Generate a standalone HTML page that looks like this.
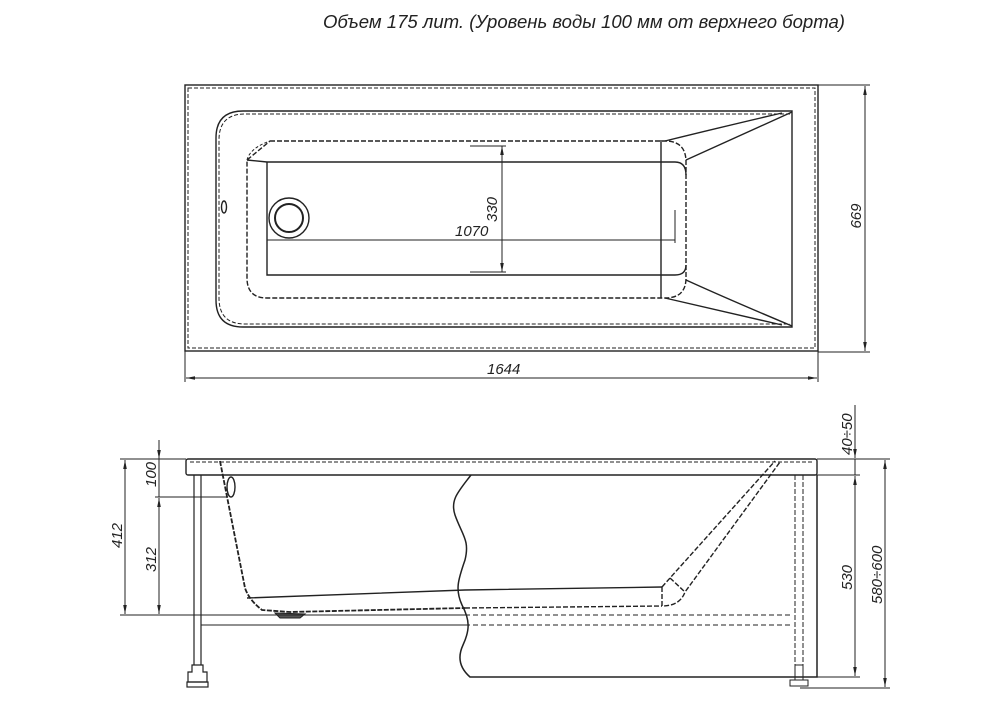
<!DOCTYPE html>
<html><head><meta charset="utf-8"><style>
html,body{margin:0;padding:0;background:#fff;}
svg{display:block;}
text{font-family:"Liberation Sans",sans-serif;font-style:italic;fill:#222;}
</style></head><body>
<svg width="1000" height="702" viewBox="0 0 1000 702" xmlns="http://www.w3.org/2000/svg">
<defs>
<marker id="a" viewBox="0 0 10 10" refX="10" refY="5" markerWidth="9" markerHeight="9" orient="auto-start-reverse" markerUnits="userSpaceOnUse"><path d="M0,3 L10,5 L0,7 z" fill="#222"/></marker>
</defs>
<text x="323" y="28" font-size="18" textLength="522" lengthAdjust="spacingAndGlyphs">Объем 175 лит. (Уровень воды 100 мм от верхнего борта)</text>

<g fill="none" stroke="#222" stroke-width="1.4">
<!-- TOP VIEW -->
<rect x="185" y="85" width="633" height="266"/>
<rect x="188" y="88" width="627" height="260" stroke-dasharray="4 2" stroke-width="1"/>
<path d="M792,111 H243 Q216,111 216,138 V300 Q216,327 243,327 H792 Z"/>
<path d="M790,114 H245 Q219,114 219,140 V298 Q219,324 245,324 H790" stroke-dasharray="4 2" stroke-width="1"/>
<!-- basin -->
<path d="M270,141 H665 Q686,141 686,162 V278 Q686,298 665,298 H267 Q247,298 247,278 V160 L270,141" stroke-dasharray="5 2"/>
<path d="M247,160 Q250,148 270,141" stroke-dasharray="3 2" stroke-width="1"/>
<path d="M267,162 H675 Q686,162 686,175 M267,162 V275 H675 Q686,275 686,265"/>
<path d="M247,160 L267,162"/>
<line x1="661" y1="140" x2="661" y2="298"/>
<path d="M686,160 Q730,140 792,112 M665,141 Q730,125 782,113"/>
<path d="M686,280 Q730,300 792,326 M665,298 Q730,313 782,325"/>
<circle cx="289" cy="218" r="20"/>
<circle cx="289" cy="218" r="14" stroke-width="2"/>
<ellipse cx="224" cy="207" rx="2.5" ry="6"/>
<!-- dims top -->
<g stroke-width="1">
<line x1="267" y1="240" x2="675" y2="240"/>
<line x1="675" y1="210" x2="675" y2="243"/>
<line x1="267" y1="210" x2="267" y2="243"/>
<line x1="502" y1="146" x2="502" y2="272" marker-start="url(#a)" marker-end="url(#a)"/>
<line x1="470" y1="146" x2="506" y2="146"/>
<line x1="470" y1="272" x2="506" y2="272"/>
<line x1="185" y1="351" x2="185" y2="382"/>
<line x1="818" y1="351" x2="818" y2="382"/>
<line x1="186" y1="378" x2="817" y2="378" marker-start="url(#a)" marker-end="url(#a)"/>
<line x1="818" y1="85" x2="870" y2="85"/>
<line x1="818" y1="352" x2="870" y2="352"/>
<line x1="865" y1="86" x2="865" y2="351" marker-start="url(#a)" marker-end="url(#a)"/>
</g>

<!-- SIDE VIEW -->
<rect x="186" y="459" width="631" height="16" rx="2"/>
<line x1="190" y1="462" x2="814" y2="462" stroke-dasharray="4 2" stroke-width="1"/>
<line x1="194" y1="475" x2="194" y2="665" stroke-width="1.2"/>
<line x1="201" y1="475" x2="201" y2="665" stroke-width="1.2"/>
<path d="M192,665 h11 v7 h4 v10 h-19 v-10 h4 z" stroke-width="1.2"/>
<rect x="187" y="682" width="21" height="5" stroke-width="1.2"/>
<ellipse cx="231" cy="487" rx="4" ry="10"/>
<path d="M220,461 L245,588 Q249,600 262,610 L290,612 L465,608" stroke-dasharray="5 1.5" stroke-width="1.8"/>
<path d="M247,598 L465,590 L662,587"/>
<path d="M465,608 L662,606" stroke-dasharray="5 2"/>
<path d="M275,613 L305,614 L300,618 L280,618 Z" fill="#555" stroke-width="1"/>
<line x1="201" y1="615" x2="465" y2="615" stroke-width="1"/>
<line x1="201" y1="625" x2="465" y2="625" stroke-width="1"/>
<line x1="465" y1="615" x2="793" y2="615" stroke-dasharray="5 3" stroke-width="1"/>
<line x1="465" y1="625" x2="793" y2="625" stroke-dasharray="5 3" stroke-width="1"/>
<path d="M471,475 C458,492 450,500 455,515 C462,535 470,540 465,560 C458,580 455,590 462,605 C470,620 470,630 463,645 C456,660 462,670 470,677 H817 V475" stroke-width="1.5"/>
<path d="M662,587 L662,606 Q680,606 685,592 L780,462 M662,587 L670,578 L775,461 M670,578 L685,592" stroke-dasharray="5 2"/>
<line x1="795" y1="475" x2="795" y2="665" stroke-dasharray="5 2" stroke-width="1"/>
<line x1="803" y1="475" x2="803" y2="665" stroke-dasharray="5 2" stroke-width="1"/>
<path d="M795,665 h8 v15 h-8 z" stroke-width="1"/>
<rect x="790" y="680" width="18" height="6" stroke-width="1"/>
<!-- side dims -->
<g stroke-width="1">
<line x1="120" y1="459" x2="186" y2="459"/>
<line x1="120" y1="615" x2="245" y2="615"/>
<line x1="155" y1="497" x2="228" y2="497"/>
<line x1="125" y1="460" x2="125" y2="614" marker-start="url(#a)" marker-end="url(#a)"/>
<line x1="159" y1="440" x2="159" y2="459" marker-end="url(#a)"/>
<line x1="159" y1="459" x2="159" y2="497"/>
<line x1="159" y1="498" x2="159" y2="614" marker-start="url(#a)" marker-end="url(#a)"/>
<line x1="817" y1="459" x2="890" y2="459"/>
<line x1="817" y1="475" x2="860" y2="475"/>
<line x1="817" y1="677" x2="860" y2="677"/>
<line x1="800" y1="688" x2="890" y2="688"/>
<line x1="855" y1="405" x2="855" y2="458" marker-end="url(#a)"/>
<line x1="855" y1="459" x2="855" y2="475"/>
<line x1="855" y1="476" x2="855" y2="676" marker-start="url(#a)" marker-end="url(#a)"/>
<line x1="885" y1="460" x2="885" y2="687" marker-start="url(#a)" marker-end="url(#a)"/>
</g>
</g>

<text x="455" y="236" font-size="15">1070</text>
<text transform="translate(497,222) rotate(-90)" font-size="15">330</text>
<text x="487" y="374" font-size="15">1644</text>
<text transform="translate(851,203) rotate(90)" font-size="15">699</text>
<text transform="translate(122,548) rotate(-90)" font-size="15">412</text>
<text transform="translate(156,487) rotate(-90)" font-size="15">100</text>
<text transform="translate(156,572) rotate(-90)" font-size="15">312</text>
<text transform="translate(852,455) rotate(-90)" font-size="15">40÷50</text>
<text transform="translate(852,590) rotate(-90)" font-size="15">530</text>
<text transform="translate(882,604) rotate(-90)" font-size="15">580÷600</text>
</svg>
</body></html>
